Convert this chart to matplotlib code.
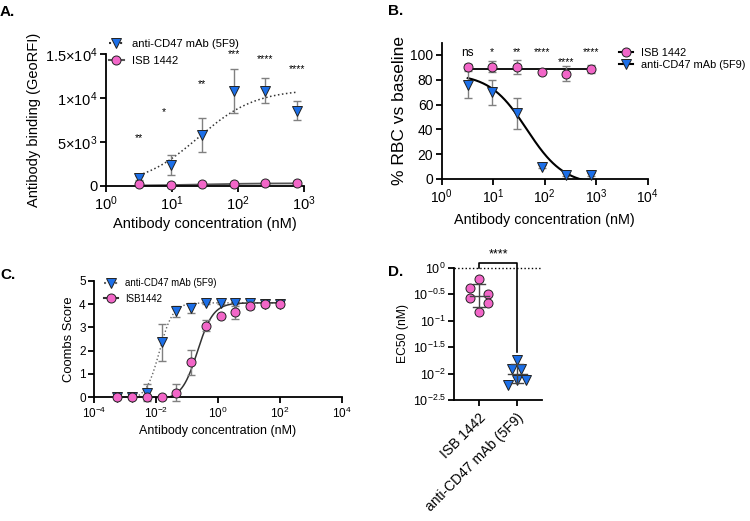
import numpy as np
import matplotlib
matplotlib.use("Agg")
import matplotlib.pyplot as plt
from matplotlib.lines import Line2D
from matplotlib.ticker import FixedLocator, NullLocator

plt.rcParams['font.family'] = ['Liberation Sans', 'DejaVu Sans']
plt.rcParams['mathtext.fontset'] = 'custom'
plt.rcParams['mathtext.rm'] = 'Liberation Sans'
plt.rcParams['mathtext.it'] = 'Liberation Sans:italic'
plt.rcParams['mathtext.bf'] = 'Liberation Sans:bold'
plt.rcParams['mathtext.default'] = 'regular'

PINK = '#f266c8'
BLUE = '#1c6fe8'
ERR = '#808080'

# ---- A: antibody binding ----
a_conc = [3.2, 9.5, 28.5, 87, 260, 780]
a_5f9 = [910, 2390, 5760, 10800, 10800, 8560]
a_5f9_sd = [200, 1140, 1950, 2460, 1420, 1100]
a_isb = [180, 80, 190, 230, 300, 300]
a_isb_sd = [60, 40, 60, 60, 80, 80]
a_stars = ['**', '*', '**', '***', '****', '****']
a_star_x = [3.2, 7.6, 28.5, 87, 260, 780]
a_star_y = [5450, 8400, 11600, 15000, 14400, 13300]
a_fit_5f9 = [0, 11000, 25, 1.0]      # bottom, top, EC50, hill
a_fit_isb = [40, 310, 30, 1.0]

# ---- B: % RBC vs baseline ----
b_conc = [3.2, 9.5, 28.5, 87, 260, 780]
b_isb = [90.6, 90.4, 90.4, 86.1, 85.0, 88.8]
b_isb_sd = [2, 4.4, 5.4, 1.5, 6.1, 3]
b_5f9 = [76.2, 70.0, 53.2, 9.9, 3.5, 3.5]
b_5f9_sd = [10.5, 10, 12.5, 1, 1, 1]
b_stars = ['ns', '*', '**', '****', '****', '****']
b_star_y = [102, 102, 102, 102, 94, 102]
b_fit_5f9 = [-5, 85, 45, -1.2]

# ---- C: Coombs score ----
c_conc = [100, 33.3, 11.1, 3.7, 1.23, 0.412, 0.137, 0.0457, 0.0152, 0.00508, 0.00169, 0.000565]
c_5f9 = [4.0, 4.0, 4.03, 4.03, 4.03, 4.03, 3.83, 3.69, 2.36, 0.2, 0, 0]
c_5f9_sd = [0.03, 0.03, 0.05, 0.05, 0.05, 0.05, 0.2, 0.24, 0.8, 0.35, 0, 0]
c_isb = [4.0, 4.0, 3.93, 3.64, 3.5, 3.07, 1.5, 0.19, 0, 0, 0, 0]
c_isb_sd = [0.03, 0.03, 0.15, 0.27, 0.05, 0.23, 0.54, 0.37, 0, 0, 0, 0]
c_fit_5f9 = [-0.1, 4.05, 0.013, 2.0]
c_fit_isb = [-0.1, 4.05, 0.22, 1.7]

# ---- D: EC50 ----
d_groups = ['ISB 1442', 'anti-CD47 mAb (5F9)']
d_isb = [0.611, 0.407, 0.318, 0.271, 0.215, 0.148]
d_5f9 = [0.0183, 0.0122, 0.0122, 0.00755, 0.00755, 0.00607]


def logistic(x, bottom, top, ec50, hill):
  return bottom + (top - bottom) / (1 + (ec50 / x) ** hill)


def style(ax, fs):
  for s in ['top', 'right']:
    ax.spines[s].set_visible(False)
  for s in ['left', 'bottom']:
    ax.spines[s].set_linewidth(1.3)
  ax.tick_params(width=1.3, length=4, labelsize=fs, pad=2)
  ax.tick_params(which='minor', length=0)


def points(ax, x, y, sd, marker, color, z):
  ax.errorbar(x, y, yerr=sd, fmt='none', ecolor=ERR, elinewidth=1, capsize=3,
              capthick=1, zorder=z, clip_on=False)
  ax.plot(x, y, marker, ls='none', ms=6.5, mfc=color, mec='#222222', mew=0.7,
          zorder=z + 0.5, clip_on=False)


def frac(l, t, r, b):
  return [l / 750, 1 - b / 521, (r - l) / 750, (b - t) / 521]


fig = plt.figure(figsize=(7.5, 5.21), dpi=100)

axA = fig.add_axes(frac(106, 54, 304, 186))
axB = fig.add_axes(frac(441.7, 42.6, 647.7, 179))
axC = fig.add_axes(frac(94, 280.7, 341.7, 397.3))
axD = fig.add_axes(frac(454.3, 267.7, 541.7, 400))

# ---------------- A ----------------
style(axA, 10.5)
xf = np.logspace(np.log10(a_conc[0]), np.log10(a_conc[-1]), 200)
axA.plot(xf, logistic(xf, *a_fit_5f9), ':', color='#333333', lw=1.1)
axA.plot(xf, logistic(xf, *a_fit_isb), '-', color='#555555', lw=1.3)
points(axA, a_conc, a_5f9, a_5f9_sd, 'v', BLUE, 3)
points(axA, a_conc, a_isb, a_isb_sd, 'o', PINK, 4)
for x, y, s in zip(a_star_x, a_star_y, a_stars):
  axA.text(x, y, s, ha='center', va='center', fontsize=7.5)
axA.set_xscale('log')
axA.set_xlim(1, 1000)
axA.set_ylim(0, 15000)
axA.xaxis.set_major_locator(FixedLocator([1, 10, 100, 1000]))
axA.xaxis.set_minor_locator(NullLocator())
axA.set_yticks([0, 5000, 10000, 15000])
axA.set_yticklabels(['0', '5×10$^3$', '1×10$^4$', '1.5×10$^4$'])
axA.set_xlabel('Antibody concentration (nM)', fontsize=10.5, labelpad=3)
axA.set_ylabel('Antibody binding (GeoRFI)', fontsize=10.5, labelpad=3)
hA = [Line2D([], [], ls=':', color='#333333', marker='v', ms=6.5, mfc=BLUE, mec='#222222', mew=0.7),
      Line2D([], [], ls='-', color='#555555', marker='o', ms=6.5, mfc=PINK, mec='#222222', mew=0.7)]
fig.legend(hA, ['anti-CD47 mAb (5F9)', 'ISB 1442'], loc='upper left',
           bbox_to_anchor=(109 / 750, 1 - 39 / 521), frameon=False, fontsize=8.1,
           handlelength=1.3, handletextpad=0.7, labelspacing=0.62, borderpad=0, borderaxespad=0)

# ---------------- B ----------------
style(axB, 10)
xf = np.logspace(np.log10(b_conc[0]), np.log10(b_conc[-1]), 200)
axB.plot(xf, logistic(xf, *b_fit_5f9), '-', color='k', lw=1.5)
axB.plot([b_conc[0], b_conc[-1]], [np.mean(b_isb)] * 2, '-', color='k', lw=1.3)
points(axB, b_conc, b_5f9, b_5f9_sd, 'v', BLUE, 3)
points(axB, b_conc, b_isb, b_isb_sd, 'o', PINK, 4)
for x, y, s in zip(b_conc, b_star_y, b_stars):
  axB.text(x, y, s, ha='center', va='center', fontsize=7.5 if s != 'ns' else 8.5)
axB.set_xscale('log')
axB.set_xlim(1, 1e4)
axB.set_ylim(0, 110)
axB.xaxis.set_major_locator(FixedLocator([1, 10, 100, 1000, 10000]))
axB.xaxis.set_minor_locator(NullLocator())
axB.set_yticks([0, 20, 40, 60, 80, 100])
axB.set_xlabel('Antibody concentration (nM)', fontsize=10.4, labelpad=5)
axB.set_ylabel('% RBC vs baseline', fontsize=12.5, labelpad=2)
hB = [Line2D([], [], ls='-', color='k', marker='o', ms=6.5, mfc=PINK, mec='#222222', mew=0.7),
      Line2D([], [], ls='-', color='k', marker='v', ms=6.5, mfc=BLUE, mec='#222222', mew=0.7)]
fig.legend(hB, ['ISB 1442', 'anti-CD47 mAb (5F9)'], loc='upper left',
           bbox_to_anchor=(619 / 750, 1 - 47.5 / 521), frameon=False, fontsize=7.9,
           handlelength=1.3, handletextpad=0.7, labelspacing=0.25, borderpad=0, borderaxespad=0)

# ---------------- C ----------------
style(axC, 8.5)
xf = np.logspace(np.log10(c_conc[-1]), np.log10(c_conc[0]), 300)
axC.plot(xf, logistic(xf, *c_fit_5f9), ':', color='#666666', lw=1)
axC.plot(xf, logistic(xf, *c_fit_isb), '-', color='#333333', lw=1.1)
points(axC, c_conc, c_5f9, c_5f9_sd, 'v', BLUE, 3)
points(axC, c_conc, c_isb, c_isb_sd, 'o', PINK, 4)
axC.set_xscale('log')
axC.set_xlim(1e-4, 1e4)
axC.set_ylim(0, 5)
axC.xaxis.set_major_locator(FixedLocator([1e-4, 1e-2, 1, 1e2, 1e4]))
axC.xaxis.set_minor_locator(NullLocator())
axC.set_yticks([0, 1, 2, 3, 4, 5])
axC.set_xlabel('Antibody concentration (nM)', fontsize=9, labelpad=3)
axC.set_ylabel('Coombs Score', fontsize=9.4, labelpad=3)
hC = [Line2D([], [], ls=':', color='#666666', marker='v', ms=6.5, mfc=BLUE, mec='#222222', mew=0.7),
      Line2D([], [], ls='-', color='#333333', marker='o', ms=6.5, mfc=PINK, mec='#222222', mew=0.7)]
fig.legend(hC, ['anti-CD47 mAb (5F9)', 'ISB1442'], loc='upper left',
           bbox_to_anchor=(104 / 750, 1 - 278 / 521), frameon=False, fontsize=6.9,
           handlelength=1.5, handletextpad=0.7, labelspacing=0.6, borderpad=0, borderaxespad=0)

# ---------------- D ----------------
style(axD, 9)
offs = {0: [0, -0.23, 0.23, -0.23, 0.23, 0], 1: [0, -0.12, 0.11, 0, 0.23, -0.24]}
for i, (vals, mk, col) in enumerate([(d_isb, 'o', PINK), (d_5f9, 'v', BLUE)]):
  lv = np.log10(vals)
  m, sd = lv.mean(), lv.std(ddof=1)
  axD.plot(i + np.array(offs[i]), vals, mk, ls='none', ms=6.5, mfc=col, mec='#222222',
           mew=0.7, zorder=3, clip_on=False)
  axD.plot([i - 0.25, i + 0.25], [10 ** m] * 2, color='#444444', lw=1, zorder=4)
  axD.plot([i, i], [10 ** (m - sd), 10 ** (m + sd)], color='#444444', lw=1, zorder=4)
  for e in [m - sd, m + sd]:
    axD.plot([i - 0.15, i + 0.15], [10 ** e] * 2, color='#444444', lw=1, zorder=4)
axD.axhline(1.0, ls=':', color='k', lw=1, clip_on=False)
axD.plot([0, 0, 1, 1], [1.0, 1.243, 1.243, 0.0258], color='k', lw=1.2, clip_on=False)
axD.text(0.5, 1.8, '****', ha='center', va='center', fontsize=9, clip_on=False)
axD.set_yscale('log')
axD.set_ylim(10 ** -2.5, 1)
axD.yaxis.set_major_locator(FixedLocator(10.0 ** np.array([-2.5, -2, -1.5, -1, -0.5, 0])))
axD.yaxis.set_minor_locator(NullLocator())
axD.set_yticklabels([r'$10^{-2.5}$', r'$10^{-2}$', r'$10^{-1.5}$', r'$10^{-1}$', r'$10^{-0.5}$', r'$10^{0}$'])
axD.set_xlim(-0.65, 1.65)
axD.set_xticks([0, 1])
axD.set_xticklabels(d_groups, rotation=45, ha='right', rotation_mode='anchor', fontsize=10)
axD.tick_params(axis='x', pad=4)
axD.set_ylabel('EC50 (nM)', fontsize=8.7, labelpad=3)

# panel letters
for x, y, s in [(0, 5, 'A.'), (388, 4, 'B.'), (0, 268, 'C.'), (388, 265, 'D.')]:
  fig.text(x / 750, 1 - y / 521, s, fontsize=11, fontweight='bold', va='top', ha='left')

fig.savefig('out.png', dpi=100)
